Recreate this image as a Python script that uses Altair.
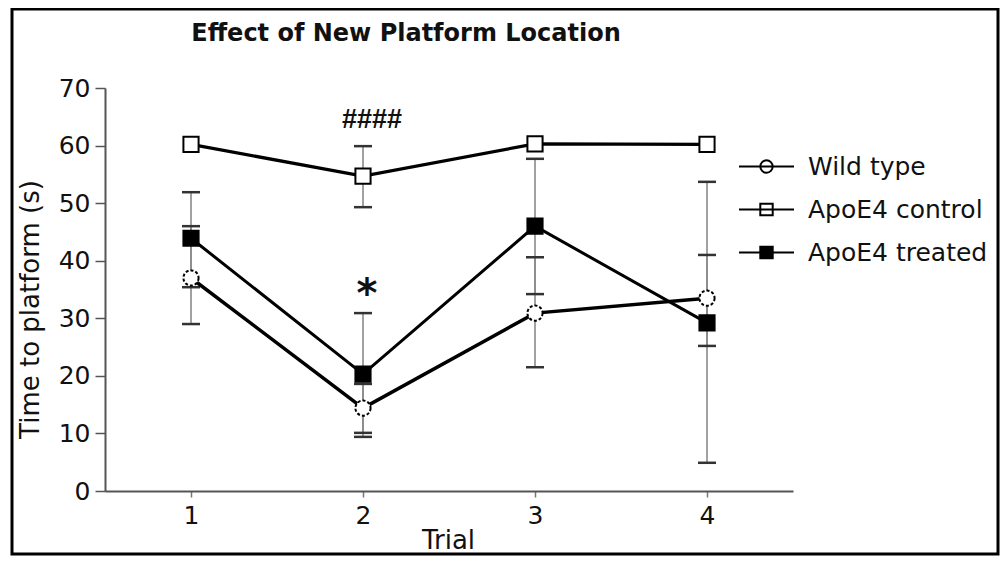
import altair as alt
import pandas as pd

# ---- data ----
trials = [1, 2, 3, 4]
series = ["Wild type", "ApoE4 control", "ApoE4 treated"]

wt_mean = [37.0, 14.4, 30.9, 33.5]
wt_lo = [29.0, 10.1, 21.5, 25.2]
wt_hi = [46.0, 18.6, 40.6, 41.0]

ctl_mean = [60.2, 54.7, 60.3, 60.2]
ctl_lo = [None, 49.3, None, None]
ctl_hi = [None, 59.9, None, None]

trt_mean = [43.9, 20.3, 46.0, 29.2]
trt_lo = [35.4, 9.4, 34.2, 4.9]
trt_hi = [51.9, 30.9, 57.7, 53.7]

y_ticks = [0, 10, 20, 30, 40, 50, 60, 70]
x_ticks = [1, 2, 3, 4]

annot_text = ["####", "*"]
annot_x = [2, 2]
annot_y = [64.4, 35.4]

chart_title = "Effect of New Platform Location"
x_title = "Trial"
y_title = "Time to platform (s)"

# ---- tables ----
means = {"Wild type": wt_mean, "ApoE4 control": ctl_mean, "ApoE4 treated": trt_mean}
los = {"Wild type": wt_lo, "ApoE4 control": ctl_lo, "ApoE4 treated": trt_lo}
his = {"Wild type": wt_hi, "ApoE4 control": ctl_hi, "ApoE4 treated": trt_hi}

rows, err_rows, cap_rows = [], [], []
for s in series:
    for i, t in enumerate(trials):
        rows.append({"series": s, "trial": t, "value": means[s][i]})
        lo, hi = los[s][i], his[s][i]
        if lo is not None and hi is not None:
            err_rows.append({"series": s, "trial": t, "lo": lo, "hi": hi})
            cap_rows.append({"series": s, "trial": t, "value": lo})
            cap_rows.append({"series": s, "trial": t, "value": hi})
df = pd.DataFrame(rows)
err_df = pd.DataFrame(err_rows)
cap_df = pd.DataFrame(cap_rows)
annot_df = pd.DataFrame({"text": annot_text, "trial": annot_x, "value": annot_y})
leg_df = pd.DataFrame({"series": series, "trial": [1, 1, 1], "value": [-50, -50, -50]})
one = pd.DataFrame({"k": [0]})

FONT = "DejaVu Sans"

x_scale = alt.Scale(domain=[0.5, 4.5], nice=False, zero=False)
y_scale = alt.Scale(domain=[0, 70], nice=False)

x_axis = alt.Axis(
    values=x_ticks, format="d", title=x_title, grid=False,
    domainColor="#555", domainWidth=2, tickColor="#777", tickWidth=1.5, tickSize=6,
    labelFont=FONT, labelFontSize=25, labelColor="#111", labelPadding=6,
    titleFont=FONT, titleFontSize=26, titleFontWeight="normal", titleColor="#111",
    titleX=343, titleY=57, titleBaseline="alphabetic", titleAlign="center",
)
y_axis = alt.Axis(
    values=y_ticks, title=y_title, grid=False,
    domainColor="#555", domainWidth=2, tickColor="#555", tickWidth=1.5, tickSize=10,
    labelFont=FONT, labelFontSize=25, labelColor="#111", labelPadding=5,
    titleFont=FONT, titleFontSize=26, titleFontWeight="normal", titleColor="#111",
    titleX=-75, titleY=221, titleAngle=270, titleAlign="center", titleBaseline="middle",
)

X = alt.X("trial:Q", scale=x_scale, axis=x_axis)
Y = alt.Y("value:Q", scale=y_scale, axis=y_axis)

err_rule = alt.Chart(err_df).mark_rule(color="#8a8a8a", strokeWidth=1.6).encode(
    x=X,
    y=alt.Y("lo:Q", scale=y_scale, axis=y_axis),
    y2="hi:Q",
)
caps = alt.Chart(cap_df).mark_tick(
    orient="horizontal", size=18, thickness=2.5, color="#333", opacity=1
).encode(x=X, y=Y)

lines = alt.Chart(df).mark_line(color="black").encode(
    x=X, y=Y, detail="series:N",
    strokeWidth=alt.StrokeWidth("series:N", scale=alt.Scale(domain=series, range=[3.5, 3, 3.8]), legend=None),
)

points = alt.Chart(df).mark_point(stroke="black", strokeWidth=2, opacity=1, size=230).encode(
    x=X, y=Y,
    shape=alt.Shape("series:N", scale=alt.Scale(domain=series, range=["circle", "square", "square"]), legend=None),
    fill=alt.Fill("series:N", scale=alt.Scale(domain=series, range=["white", "white", "black"]), legend=None),
    strokeDash=alt.StrokeDash("series:N", scale=alt.Scale(domain=series, range=[[3, 2], [1, 0], [1, 0]]), legend=None),
)

path_c = "M-2.75,0H2.75M0.62,0A0.62,0.62,0,1,1,-0.62,0A0.62,0.62,0,1,1,0.62,0Z"
path_s = "M-2.75,0H2.75M-0.62,-0.58H0.62V0.58H-0.62Z"
legend = alt.Legend(
    title=None, orient="none", legendX=649, legendY=66, padding=0,
    labelFont=FONT, labelFontSize=25, labelColor="#111", labelOffset=29, labelLimit=400,
    symbolSize=400, symbolStrokeColor="black", symbolStrokeWidth=2, symbolOpacity=1,
    rowPadding=17,
)
leg_layer = alt.Chart(leg_df).mark_point(clip=True, strokeWidth=2, opacity=1).encode(
    x=X, y=Y,
    shape=alt.Shape("series:N", scale=alt.Scale(domain=series, range=[path_c, path_s, path_s]), legend=legend),
    fill=alt.Fill("series:N", scale=alt.Scale(domain=series, range=["white", "white", "black"]), legend=legend),
    stroke=alt.Stroke("series:N", scale=alt.Scale(domain=series, range=["black", "black", "black"]), legend=legend),
)

hash_txt = alt.Chart(annot_df.iloc[[0]]).mark_text(
    font="Liberation Sans", fontSize=27, fontWeight="bold", color="#111", dx=9, baseline="middle"
).encode(x=X, y=Y, text="text:N")
star_txt = alt.Chart(annot_df.iloc[[1]]).mark_text(
    font=FONT, fontSize=40, fontWeight="bold", color="#111", dx=4, dy=8, baseline="middle"
).encode(x=X, y=Y, text="text:N")

title_txt = alt.Chart(one).mark_text(
    font=FONT, fontSize=24, fontWeight="bold", color="#111", align="center", baseline="alphabetic"
).encode(x=alt.value(301), y=alt.value(-47), text=alt.value(chart_title))

frame = alt.Chart(one).mark_rect(fillOpacity=0, stroke="black", strokeWidth=3).encode(
    x=alt.value(-93), x2=alt.value(893), y=alt.value(-79), y2=alt.value(466)
)

chart = alt.layer(
    err_rule, caps, lines, points, leg_layer, hash_txt, star_txt, title_txt, frame
).resolve_scale(
    shape="independent", fill="independent", stroke="independent"
).properties(
    width=688, height=403,
    autosize=alt.AutoSizeParams(type="none"),
    padding={"left": 97, "top": 80, "right": 207, "bottom": 65},
).configure(
    background="white",
    view=alt.ViewConfig(stroke="transparent", strokeWidth=0),
)

chart.save("out.html", embed_options={"renderer": "svg", "actions": False})
